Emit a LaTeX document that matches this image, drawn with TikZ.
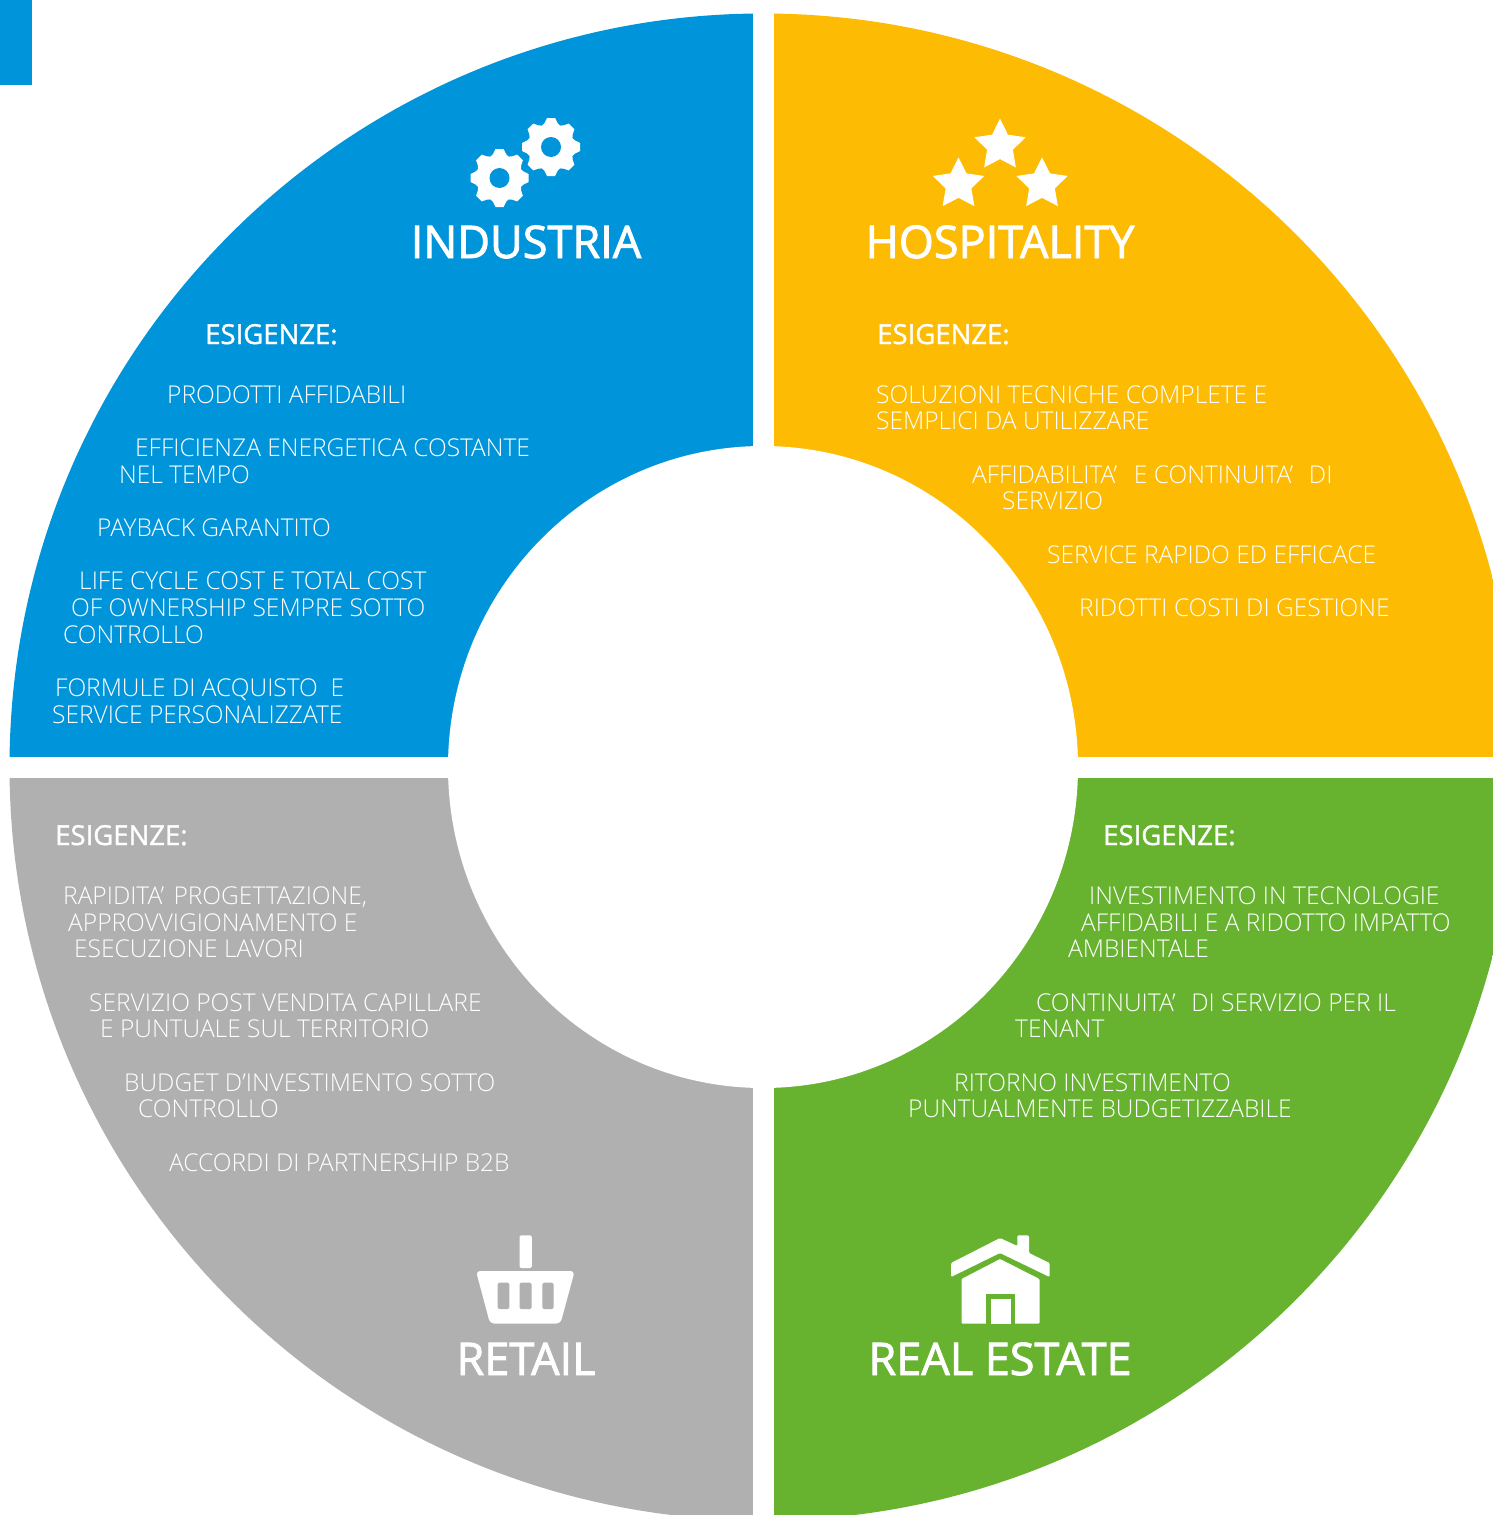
\documentclass[tikz,border=0pt]{standalone}
\usepackage{fontspec}
\setmainfont{Open Sans}
\IfFontExistsTF{Open Sans Light}{\newfontfamily\oslight{Open Sans Light}[Kerning=Off]}{\newfontfamily\oslight{Open Sans}[Kerning=Off]}
\newfontfamily\ossemi{Open Sans}[RawFeature={embolden=1.3}]
\newfontfamily\ostitle{Open Sans}[RawFeature={embolden=1.9}]
\usetikzlibrary{shapes.geometric}
\definecolor{cblue}{HTML}{0095DB}
\definecolor{cyellow}{HTML}{FDBB03}
\definecolor{cgray}{HTML}{B0B0B0}
\definecolor{cgreen}{HTML}{67B32F}
\tikzset{
 line/.style={anchor=base west,inner sep=0pt,text=white,font=\oslight\fontsize{24.52}{24.52}\selectfont},
 head/.style={anchor=base west,inner sep=0pt,text=white,font=\ossemi\fontsize{27.5}{27.5}\selectfont},
 title/.style={anchor=base,inner sep=0pt,text=white,font=\ostitle\fontsize{45}{45}\selectfont},
 star5/.style={star,star points=5,star point ratio=2.0,fill=white,draw=none,inner sep=0pt,minimum size=54pt},
}
\newcommand{\gearshape}[2]{%
 \begin{scope}[shift={(#1,#2)}]
  \foreach \a in {0,45,...,315}{
   \fill[white,rotate=\a] (-14,-16) -- (-6.5,-24) -- (-4,-29) -- (4,-29) -- (6.5,-24) -- (14,-16) -- cycle;
  }
  \fill[white] (0,0) circle (21);
  \fill[cblue] (0,0) circle (10);
 \end{scope}}
\begin{document}
\begin{tikzpicture}[x=1pt,y=-1pt]
\useasboundingbox (0,0) rectangle (1493,1515);
\clip (0,0) rectangle (1493,1515);
\def\cx{763}\def\cy{767}
\begin{scope}
 \clip (\cx,\cy) circle (753.5);
 \fill[cblue] (0,0) rectangle (752.5,756.5);
 \fill[cyellow] (773.5,0) rectangle (1493,756.5);
 \fill[cgray] (0,777.5) rectangle (752.5,1515);
 \fill[cgreen] (773.5,777.5) rectangle (1493,1515);
 \fill[white] (\cx,\cy) ellipse [x radius=315,y radius=321];
\end{scope}
\fill[cblue] (0,0) rectangle (32,85);
% gears
\gearshape{499.5}{178}
\gearshape{551}{147}
% stars
\node[star5] (s1) at (1000,145.6) {};
\node[star5] (s2) at (958.5,184.3) {};
\node[star5] (s3) at (1042,184.3) {};
% basket
\fill[white,rounded corners=2pt] (519.5,1235.3) rectangle (531.8,1268);
\fill[white,rounded corners=4pt] (476,1271) -- (574.7,1271) -- (560.5,1323.5) -- (490,1323.5) -- cycle;
\foreach \xa/\xb in {497.7/509.4,519.5/531.7,542.3/553.6}{\fill[cgray,rounded corners=1.5pt] (\xa,1282.7) rectangle (\xb,1309);}
% house
\fill[white,rounded corners=1.2pt] (951,1263) -- (1000,1238) -- (1017.4,1246) -- (1017.4,1235.3) -- (1029,1235.3) -- (1029,1253) -- (1049.6,1263) -- (1049.6,1277) -- (1000,1253) -- (951,1277) -- cycle;
\fill[white,rounded corners=1pt] (961.5,1279) -- (1000,1259) -- (1039.5,1279) -- (1039.5,1323.5) -- (961.5,1323.5) -- cycle;
\fill[cgreen] (986,1294) rectangle (1015,1324);
\fill[white] (990.5,1299) rectangle (1010.7,1324);
% titles
\node[title] (tIndustria) at (526,258) {INDUSTRIA};
\node[title] (tHospitality) at (1000,258) {HOSPITALITY};
\node[title] (tRetail) at (526,1375) {RETAIL};
\node[title] (tRealEstate) at (1000,1375) {REAL ESTATE};
% headings
\node[head] (hA) at (205,344) {ESIGENZE:};
\node[head] (hB) at (877,344) {ESIGENZE:};
\node[head] (hC) at (55,845) {ESIGENZE:};
\node[head] (hD) at (1103,845) {ESIGENZE:};
% industria
\node[line] (a1) at (167,403) {PRODOTTI AFFIDABILI};
\node[line] (a2) at (135,456) {EFFICIENZA ENERGETICA COSTANTE};
\node[line] (a3) at (119,483) {NEL TEMPO};
\node[line] (a4) at (97,536) {PAYBACK GARANTITO};
\node[line] (a5) at (79,589) {LIFE CYCLE COST E TOTAL COST};
\node[line] (a6) at (71,616) {OF OWNERSHIP SEMPRE SOTTO};
\node[line] (a7) at (63,643) {CONTROLLO};
\node[line] (a8) at (55,696) {FORMULE DI ACQUISTO\ \ E};
\node[line] (a9) at (52,723) {SERVICE PERSONALIZZATE};
% hospitality
\node[line] (b1) at (876,403) {SOLUZIONI TECNICHE COMPLETE E};
\node[line] (b2) at (876,429) {SEMPLICI DA UTILIZZARE};
\node[line] (b3) at (972,483) {AFFIDABILITA’\hspace{4pt}\ \ E CONTINUITA’\hspace{3pt}\ \ DI};
\node[line] (b4) at (1002,509) {SERVIZIO};
\node[line] (b5) at (1047,563) {SERVICE RAPIDO ED EFFICACE};
\node[line] (b6) at (1079,616) {RIDOTTI COSTI DI GESTIONE};
% retail
\node[line] (c1) at (63,904) {RAPIDITA’\hspace{3pt} PROGETTAZIONE,};
\node[line] (c2) at (68,931) {APPROVVIGIONAMENTO E};
\node[line] (c3) at (74,957) {ESECUZIONE LAVORI};
\node[line] (c4) at (89,1011) {SERVIZIO POST VENDITA CAPILLARE};
\node[line] (c5) at (100,1037) {E PUNTUALE SUL TERRITORIO};
\node[line] (c6) at (124,1091) {BUDGET D’INVESTIMENTO SOTTO};
\node[line] (c7) at (138,1117) {CONTROLLO};
\node[line] (c8) at (169,1171) {ACCORDI DI PARTNERSHIP B2B};
% real estate
\node[line] (d1) at (1089,904) {INVESTIMENTO IN TECNOLOGIE};
\node[line] (d2) at (1081,931) {AFFIDABILI E A RIDOTTO IMPATTO};
\node[line] (d3) at (1068,957) {AMBIENTALE};
\node[line] (d4) at (1036,1011) {CONTINUITA’\hspace{3pt}\ \ DI SERVIZIO PER IL};
\node[line] (d5) at (1015,1037) {TENANT};
\node[line] (d6) at (954,1091) {RITORNO INVESTIMENTO};
\node[line] (d7) at (908,1117) {PUNTUALMENTE BUDGETIZZABILE};
\end{tikzpicture}
\end{document}
